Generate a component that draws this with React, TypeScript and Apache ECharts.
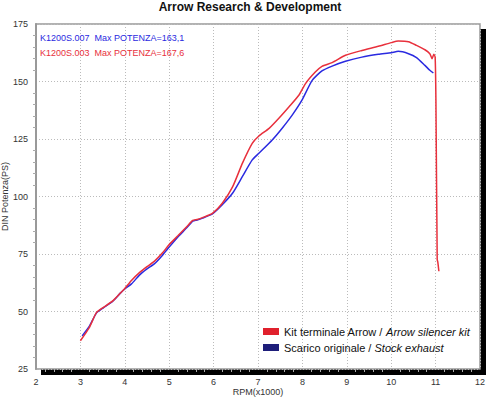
import React, { useEffect, useRef } from "react";
import * as echarts from "echarts";

const titleText = "Arrow Research & Development";
const xName = "RPM(x1000)";
const yName = "DIN Potenza(PS)";

const arrowName = "Kit terminale Arrow / Arrow silencer kit";
const stockName = "Scarico originale / Stock exhaust";

const arrowLabel = "K1200S.003  Max POTENZA=167,6";
const stockLabel = "K1200S.007  Max POTENZA=163,1";

const arrowRpm = [3.0, 3.2, 3.36, 3.51, 3.73, 3.9, 4.0, 4.15, 4.33, 4.5, 4.67, 4.85, 5.0, 5.2, 5.4, 5.53, 5.63, 5.75, 5.98, 6.2, 6.43, 6.65, 6.87, 7.02, 7.25, 7.47, 7.7, 7.92, 8.07, 8.29, 8.44, 8.67, 8.97, 9.34, 9.71, 10.0, 10.16, 10.39, 10.57, 10.76, 10.87, 10.92, 10.96, 10.99, 11.007, 11.036, 11.05, 11.074];
const arrowPs = [37.3, 43.0, 49.5, 51.7, 54.6, 58.0, 60.0, 63.5, 66.9, 69.5, 71.9, 75.5, 79.1, 83.0, 87.0, 89.6, 90.0, 90.8, 92.8, 97.2, 104.3, 114.5, 123.1, 126.3, 129.6, 134.0, 139.0, 144.0, 149.1, 154.1, 156.6, 158.2, 161.4, 163.5, 165.3, 166.9, 167.6, 167.3, 165.7, 163.8, 162.1, 159.9, 161.8, 160.6, 141.9, 72.6, 71.5, 67.5];

const stockRpm = [3.04, 3.2, 3.36, 3.51, 3.73, 3.9, 4.0, 4.15, 4.33, 4.5, 4.67, 4.85, 5.0, 5.2, 5.4, 5.53, 5.63, 5.75, 5.98, 6.2, 6.43, 6.65, 6.87, 7.02, 7.32, 7.54, 7.77, 7.99, 8.22, 8.44, 8.67, 8.97, 9.34, 9.71, 10.0, 10.16, 10.39, 10.57, 10.76, 10.87, 10.95];
const stockPs = [39.4, 43.5, 49.3, 51.5, 54.5, 58.0, 59.8, 62.0, 65.8, 68.5, 70.8, 74.5, 78.0, 82.5, 86.5, 89.3, 89.8, 90.6, 92.5, 96.5, 101.5, 108.7, 115.9, 118.8, 124.6, 129.6, 135.4, 141.9, 150.5, 154.6, 156.7, 158.8, 160.6, 161.8, 162.5, 163.1, 162.1, 160.4, 157.0, 154.9, 153.7];

const xMin = 2;
const xMax = 12;
const xStep = 1;
const yMin = 25;
const yMax = 175;
const yStep = 25;

const RED = "#e8303c";
const BLUE = "#2a2ae0";
const RED_SWATCH = "#e0202c";
const NAVY_SWATCH = "#1e1e7a";
const SHADOW_COLOR = "#000";
const FONT = "Liberation Sans, Arial, sans-serif";

const GRID = { left: 36, right: 20, top: 24, bottom: 31 };
const SHADOW = 5;
const W = 500;
const H = 400;

function pairs(xs: number[], ys: number[]) {
  return xs.map((x, i) => [x, ys[i]]);
}

export default function App() {
  const ref = useRef<HTMLDivElement>(null);
  useEffect(() => {
    document.body.style.margin = "0";
    const chart = echarts.init(ref.current!, null, { renderer: "svg" });
    const legendRich = {
      n: { fontFamily: FONT, fontSize: 11, color: "#111" },
      i: { fontFamily: FONT, fontSize: 11, color: "#111", fontStyle: "italic" },
    };
    const splitStyle = { color: "#bbb", type: [1, 2], width: 1 };
    chart.setOption({
      animation: false,
      backgroundColor: "transparent",
      textStyle: { fontFamily: FONT },
      title: {
        text: titleText,
        left: "center",
        top: 1,
        padding: 0,
        textStyle: { fontFamily: FONT, fontSize: 12, fontWeight: "bold", color: "#111" },
      },
      grid: {
        ...GRID,
        outerBoundsMode: "none",
        containLabel: false,
        show: true,
        backgroundColor: "#fff",
        borderColor: "#999",
        borderWidth: 1.5,
      },
      legend: {
        left: 263,
        top: 326,
        padding: 0,
        orient: "vertical",
        itemGap: 5,
        itemWidth: 16,
        itemHeight: 7,
        icon: "rect",
        data: [
          { name: arrowName, itemStyle: { color: RED_SWATCH } },
          { name: stockName, itemStyle: { color: NAVY_SWATCH } },
        ],
        formatter: (name: string) => {
          const parts = name.split(" / ");
          return `{n|${parts[0]} / }{i|${parts[1]}}`;
        },
        textStyle: { rich: legendRich, fontSize: 11 },
      },
      xAxis: {
        type: "value",
        min: xMin,
        max: xMax,
        interval: xStep,
        name: xName,
        nameLocation: "middle",
        nameGap: 18,
        nameMoveOverlap: false,
        nameTextStyle: { fontSize: 9, color: "#333", fontFamily: FONT },
        axisLine: { show: false },
        axisTick: { show: false },
        minorTick: { show: true, splitNumber: 5, length: 3, lineStyle: { color: "#aaa" } },
        axisLabel: { fontSize: 9, color: "#333", margin: 8, fontFamily: FONT },
        splitLine: { show: true, lineStyle: splitStyle },
      },
      yAxis: {
        type: "value",
        min: yMin,
        max: yMax,
        interval: yStep,
        name: yName,
        nameLocation: "middle",
        nameGap: 27,
        nameMoveOverlap: false,
        nameTextStyle: { fontSize: 9, color: "#333", fontFamily: FONT },
        axisLine: { show: true, lineStyle: { color: "#999", width: 2 } },
        axisTick: { show: false },
        minorTick: { show: true, splitNumber: 5, length: 3, lineStyle: { color: "#aaa" } },
        axisLabel: { fontSize: 9, color: "#333", margin: 8, fontFamily: FONT },
        splitLine: { show: true, lineStyle: splitStyle },
      },
      graphic: [
        {
          type: "text",
          left: 40,
          top: 33,
          z: 100,
          style: { text: stockLabel, fill: BLUE, font: `9px ${FONT}` },
        },
        {
          type: "text",
          left: 40,
          top: 48,
          z: 100,
          style: { text: arrowLabel, fill: RED, font: `9px ${FONT}` },
        },
      ],
      series: [
        {
          name: stockName,
          type: "line",
          data: pairs(stockRpm, stockPs),
          showSymbol: false,
          smooth: 0.2,
          lineStyle: { color: BLUE, width: 1.5 },
          itemStyle: { color: NAVY_SWATCH },
        },
        {
          name: arrowName,
          type: "line",
          data: pairs(arrowRpm, arrowPs),
          showSymbol: false,
          smooth: 0.2,
          lineStyle: { color: RED, width: 1.5 },
          itemStyle: { color: RED_SWATCH },
        },
      ],
    });
    return () => chart.dispose();
  }, []);
  return (
    <div style={{ position: "relative", width: W, height: H, background: "#fff" }}>
      <div
        style={{
          position: "absolute",
          left: GRID.left + SHADOW,
          top: GRID.top + SHADOW,
          width: W - GRID.left - GRID.right + 1,
          height: H - GRID.top - GRID.bottom + 1,
          background: SHADOW_COLOR,
        }}
      />
      <div ref={ref} style={{ position: "absolute", left: 0, top: 0, width: W, height: H }} />
    </div>
  );
}
